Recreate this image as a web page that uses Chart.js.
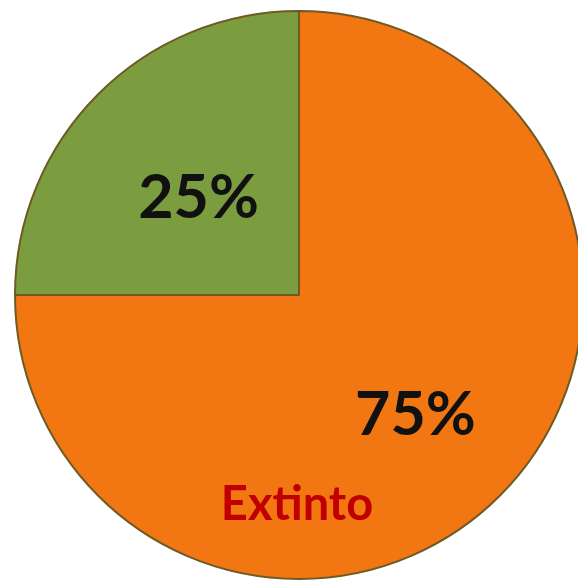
<!DOCTYPE html>
<html>
<head>
<meta charset="utf-8">
<script src="https://cdn.jsdelivr.net/npm/chart.js@4"></script>
<style>
  html, body { margin: 0; padding: 0; background: #fff; overflow: hidden; }
  #wrap { position: absolute; left: 0; top: 0; width: 600px; height: 600px; }
</style>
</head>
<body>
<div id="wrap"><canvas id="pie"></canvas></div>
<script>
// Slice data, in drawing order starting at 12 o'clock, clockwise.
const categories = ['Extinto', 'Outro'];
const values = [75, 25];
const sliceColors = ['#F27712', '#7B9C3F'];
const percentLabels = ['75%', '25%'];

// Draw the percentage inside each slice and the category name under the orange one.
const sliceLabels = {
    id: 'sliceLabels',
    afterDatasetsDraw(chart) {
        const ctx = chart.ctx;
        const arcs = chart.getDatasetMeta(0).data;
        ctx.save();
        ctx.textAlign = 'center';
        ctx.textBaseline = 'middle';
        arcs.forEach((arc, i) => {
            const mid = (arc.startAngle + arc.endAngle) / 2;
            const r = arc.outerRadius * (i === 0 ? 0.58 : 0.5);
            ctx.fillStyle = '#111';
            ctx.font = 'bold 61px Lato, "Open Sans", sans-serif';
            ctx.fillText(percentLabels[i], arc.x + Math.cos(mid) * r, arc.y + Math.sin(mid) * r + 4);
        });
        const main = arcs[0];
        ctx.fillStyle = '#C00000';
        ctx.font = 'bold 47px Lato, "Open Sans", sans-serif';
        ctx.fillText(categories[0], main.x - 2, main.y + main.outerRadius * 0.74);
        ctx.restore();
    }
};

new Chart(document.getElementById('pie'), {
    type: 'pie',
    data: {
        labels: categories,
        datasets: [{
            data: values,
            backgroundColor: sliceColors,
            borderColor: '#6E5A24',
            borderWidth: 2
        }]
    },
    options: {
        responsive: true,
        maintainAspectRatio: false,
        animation: false,
        layout: { padding: { left: 14, top: 10, right: 16, bottom: 20 } },
        plugins: { legend: { display: false }, tooltip: { enabled: false } }
    },
    plugins: [sliceLabels]
});
</script>
</body>
</html>
